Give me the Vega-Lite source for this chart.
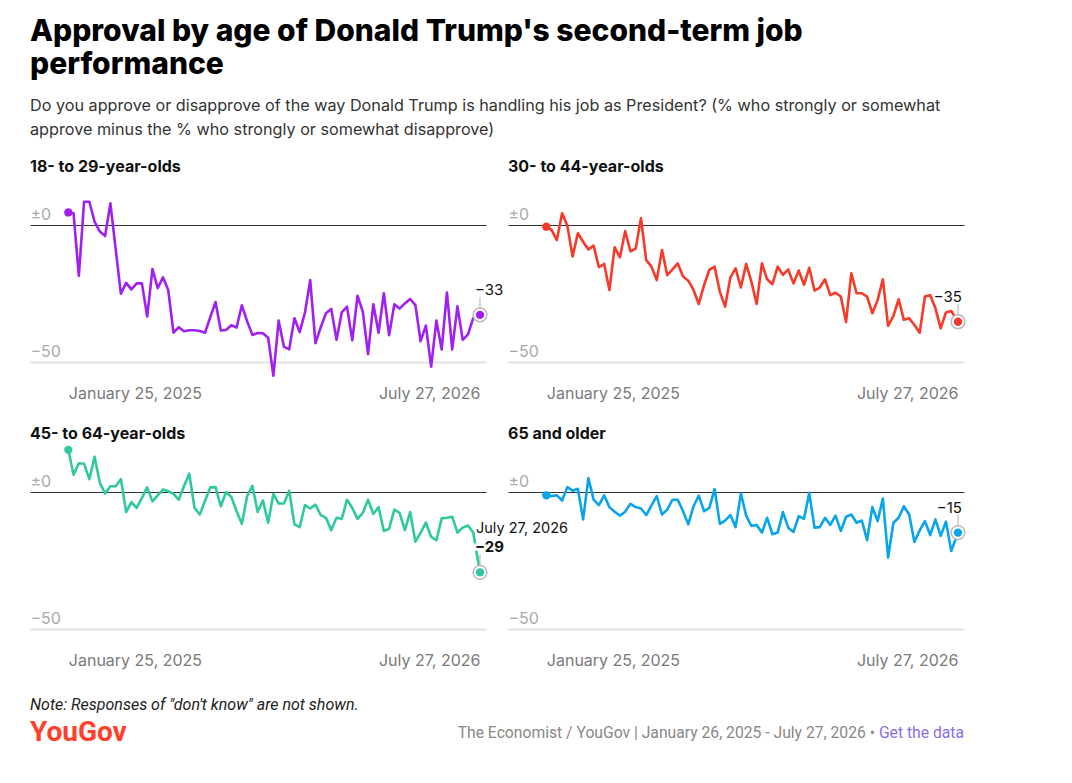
{
  "$schema": "https://vega.github.io/schema/vega-lite/v6.json",
  "background": "white",
  "padding": {"left": 30, "top": 16, "right": 10, "bottom": 10},
  "config": {
    "view": {"stroke": null},
    "font": "Inter",
    "text": {"font": "Inter"}
  },
  "title": {
    "text": ["Approval by age of Donald Trump's second-term job", "performance"],
    "subtitle": ["Do you approve or disapprove of the way Donald Trump is handling his job as President? (% who strongly or somewhat", "approve minus the % who strongly or somewhat disapprove)"],
    "anchor": "start",
    "font": "Inter",
    "fontSize": 30,
    "fontWeight": 800,
    "color": "#000000",
    "lineHeight": 33,
    "subtitleFont": "Inter",
    "subtitleFontSize": 16.2,
    "subtitleColor": "#333333",
    "subtitleLineHeight": 24,
    "subtitlePadding": 18,
    "offset": 21
  },
  "spacing": 29,
  "vconcat": [
    {
      "data": {
        "format": {"parse": {"d": "utc:'%Y-%m-%d'"}},
        "values": [
          {"d": "2025-01-25", "18- to 29-year-olds": 4.7, "30- to 44-year-olds": -0.5, "45- to 64-year-olds": 15.5, "65 and older": -1.1},
          {"d": "2025-02-01", "18- to 29-year-olds": 4.4, "30- to 44-year-olds": -1.7, "45- to 64-year-olds": 6.4, "65 and older": -1.4},
          {"d": "2025-02-08", "18- to 29-year-olds": -18.5, "30- to 44-year-olds": -5.4, "45- to 64-year-olds": 10.6, "65 and older": -1.1},
          {"d": "2025-02-15", "18- to 29-year-olds": 8.6, "30- to 44-year-olds": 4.4, "45- to 64-year-olds": 10.4, "65 and older": -3},
          {"d": "2025-02-22", "18- to 29-year-olds": 8.6, "30- to 44-year-olds": -0.2, "45- to 64-year-olds": 4.8, "65 and older": 1.9},
          {"d": "2025-03-01", "18- to 29-year-olds": 1.3, "30- to 44-year-olds": -11.4, "45- to 64-year-olds": 13, "65 and older": 0.6},
          {"d": "2025-03-08", "18- to 29-year-olds": -2.3, "30- to 44-year-olds": -2.9, "45- to 64-year-olds": 3.4, "65 and older": 1.3},
          {"d": "2025-03-15", "18- to 29-year-olds": -3.9, "30- to 44-year-olds": -6, "45- to 64-year-olds": -0.4, "65 and older": -9.9},
          {"d": "2025-03-22", "18- to 29-year-olds": 8, "30- to 44-year-olds": -8.8, "45- to 64-year-olds": 2.2, "65 and older": 5.2},
          {"d": "2025-03-29", "18- to 29-year-olds": -8.5, "30- to 44-year-olds": -7.4, "45- to 64-year-olds": 2.2, "65 and older": -2.7},
          {"d": "2025-04-05", "18- to 29-year-olds": -25, "30- to 44-year-olds": -15.3, "45- to 64-year-olds": 4.8, "65 and older": -4.7},
          {"d": "2025-04-12", "18- to 29-year-olds": -21, "30- to 44-year-olds": -14.1, "45- to 64-year-olds": -7.2, "65 and older": -1.1},
          {"d": "2025-04-19", "18- to 29-year-olds": -23.4, "30- to 44-year-olds": -23.6, "45- to 64-year-olds": -3.6, "65 and older": -5.4},
          {"d": "2025-04-26", "18- to 29-year-olds": -21.2, "30- to 44-year-olds": -8, "45- to 64-year-olds": -5.7, "65 and older": -7.1},
          {"d": "2025-05-03", "18- to 29-year-olds": -21.2, "30- to 44-year-olds": -11.7, "45- to 64-year-olds": -2, "65 and older": -8.5},
          {"d": "2025-05-10", "18- to 29-year-olds": -33.3, "30- to 44-year-olds": -2.1, "45- to 64-year-olds": 1.8, "65 and older": -7.1},
          {"d": "2025-05-17", "18- to 29-year-olds": -16, "30- to 44-year-olds": -9.5, "45- to 64-year-olds": -3.3, "65 and older": -4.2},
          {"d": "2025-05-24", "18- to 29-year-olds": -22.9, "30- to 44-year-olds": -8.5, "45- to 64-year-olds": -1.1, "65 and older": -5.4},
          {"d": "2025-05-31", "18- to 29-year-olds": -19, "30- to 44-year-olds": 2.6, "45- to 64-year-olds": 1, "65 and older": -5.9},
          {"d": "2025-06-07", "18- to 29-year-olds": -23.6, "30- to 44-year-olds": -12.7, "45- to 64-year-olds": 0.4, "65 and older": -8.3},
          {"d": "2025-06-14", "18- to 29-year-olds": -39.2, "30- to 44-year-olds": -15.1, "45- to 64-year-olds": -0.6, "65 and older": -4.8},
          {"d": "2025-06-21", "18- to 29-year-olds": -37.2, "30- to 44-year-olds": -20, "45- to 64-year-olds": -2.7, "65 and older": -1.4},
          {"d": "2025-06-28", "18- to 29-year-olds": -38.7, "30- to 44-year-olds": -9, "45- to 64-year-olds": 2.3, "65 and older": -8.1},
          {"d": "2025-07-05", "18- to 29-year-olds": -38.3, "30- to 44-year-olds": -18.2, "45- to 64-year-olds": 6.8, "65 and older": -6.3},
          {"d": "2025-07-12", "18- to 29-year-olds": -38.3, "30- to 44-year-olds": -16.1, "45- to 64-year-olds": -5.7, "65 and older": -2.7},
          {"d": "2025-07-19", "18- to 29-year-olds": -38.6, "30- to 44-year-olds": -13.9, "45- to 64-year-olds": -8.1, "65 and older": -2.7},
          {"d": "2025-07-26", "18- to 29-year-olds": -39.2, "30- to 44-year-olds": -18.7, "45- to 64-year-olds": -3.1, "65 and older": -6.9},
          {"d": "2025-08-02", "18- to 29-year-olds": -33.5, "30- to 44-year-olds": -20.2, "45- to 64-year-olds": 1.8, "65 and older": -11.7},
          {"d": "2025-08-09", "18- to 29-year-olds": -28, "30- to 44-year-olds": -23.6, "45- to 64-year-olds": 1.9, "65 and older": -5.1},
          {"d": "2025-08-16", "18- to 29-year-olds": -38.4, "30- to 44-year-olds": -28.7, "45- to 64-year-olds": -5.1, "65 and older": -1.2},
          {"d": "2025-08-23", "18- to 29-year-olds": -38.2, "30- to 44-year-olds": -21.8, "45- to 64-year-olds": 0.1, "65 and older": -6.9},
          {"d": "2025-08-30", "18- to 29-year-olds": -36.5, "30- to 44-year-olds": -16.3, "45- to 64-year-olds": -1.7, "65 and older": -5.7},
          {"d": "2025-09-06", "18- to 29-year-olds": -37.3, "30- to 44-year-olds": -15.1, "45- to 64-year-olds": -6.9, "65 and older": 1.2},
          {"d": "2025-09-13", "18- to 29-year-olds": -29.2, "30- to 44-year-olds": -24.2, "45- to 64-year-olds": -11.5, "65 and older": -11.5},
          {"d": "2025-09-20", "18- to 29-year-olds": -35, "30- to 44-year-olds": -29.7, "45- to 64-year-olds": -1.4, "65 and older": -10.3},
          {"d": "2025-09-27", "18- to 29-year-olds": -40, "30- to 44-year-olds": -19, "45- to 64-year-olds": 2.4, "65 and older": -8.3},
          {"d": "2025-10-04", "18- to 29-year-olds": -39.3, "30- to 44-year-olds": -15.7, "45- to 64-year-olds": -7.2, "65 and older": -12.7},
          {"d": "2025-10-11", "18- to 29-year-olds": -39.4, "30- to 44-year-olds": -22.7, "45- to 64-year-olds": -3, "65 and older": -0.4},
          {"d": "2025-10-18", "18- to 29-year-olds": -41, "30- to 44-year-olds": -14.1, "45- to 64-year-olds": -11.1, "65 and older": -8.5},
          {"d": "2025-10-25", "18- to 29-year-olds": -54.9, "30- to 44-year-olds": -20.6, "45- to 64-year-olds": -0.6, "65 and older": -12.3},
          {"d": "2025-11-01", "18- to 29-year-olds": -34.8, "30- to 44-year-olds": -28.7, "45- to 64-year-olds": -4.1, "65 and older": -11.9},
          {"d": "2025-11-08", "18- to 29-year-olds": -44.3, "30- to 44-year-olds": -13.9, "45- to 64-year-olds": -4.1, "65 and older": -14.7},
          {"d": "2025-11-15", "18- to 29-year-olds": -45.3, "30- to 44-year-olds": -19.7, "45- to 64-year-olds": 0.6, "65 and older": -9.3},
          {"d": "2025-11-22", "18- to 29-year-olds": -33.9, "30- to 44-year-olds": -21.5, "45- to 64-year-olds": -11.7, "65 and older": -15.3},
          {"d": "2025-11-29", "18- to 29-year-olds": -39, "30- to 44-year-olds": -15.1, "45- to 64-year-olds": -12.7, "65 and older": -14.7},
          {"d": "2025-12-06", "18- to 29-year-olds": -31.9, "30- to 44-year-olds": -18.1, "45- to 64-year-olds": -4.7, "65 and older": -7.2},
          {"d": "2025-12-13", "18- to 29-year-olds": -20, "30- to 44-year-olds": -16.1, "45- to 64-year-olds": -5.9, "65 and older": -12.9},
          {"d": "2025-12-20", "18- to 29-year-olds": -43, "30- to 44-year-olds": -21.2, "45- to 64-year-olds": -4.5, "65 and older": -14.5},
          {"d": "2025-12-27", "18- to 29-year-olds": -37.2, "30- to 44-year-olds": -16.5, "45- to 64-year-olds": -8.3, "65 and older": -8.7},
          {"d": "2026-01-03", "18- to 29-year-olds": -32.1, "30- to 44-year-olds": -21.7, "45- to 64-year-olds": -9.3, "65 and older": -9.7},
          {"d": "2026-01-10", "18- to 29-year-olds": -30.5, "30- to 44-year-olds": -15.5, "45- to 64-year-olds": -13.8, "65 and older": -0.2},
          {"d": "2026-01-17", "18- to 29-year-olds": -41.8, "30- to 44-year-olds": -23.8, "45- to 64-year-olds": -9.3, "65 and older": -12.9},
          {"d": "2026-01-24", "18- to 29-year-olds": -31.8, "30- to 44-year-olds": -22.7, "45- to 64-year-olds": -9.7, "65 and older": -12.7},
          {"d": "2026-01-31", "18- to 29-year-olds": -29.7, "30- to 44-year-olds": -19.7, "45- to 64-year-olds": -2.7, "65 and older": -9.3},
          {"d": "2026-02-07", "18- to 29-year-olds": -42, "30- to 44-year-olds": -25.5, "45- to 64-year-olds": -5.7, "65 and older": -11.9},
          {"d": "2026-02-14", "18- to 29-year-olds": -25.7, "30- to 44-year-olds": -24.6, "45- to 64-year-olds": -9.7, "65 and older": -8.5},
          {"d": "2026-02-21", "18- to 29-year-olds": -31.5, "30- to 44-year-olds": -26, "45- to 64-year-olds": -7.5, "65 and older": -14.1},
          {"d": "2026-02-28", "18- to 29-year-olds": -47, "30- to 44-year-olds": -35.3, "45- to 64-year-olds": -2.7, "65 and older": -8.9},
          {"d": "2026-03-07", "18- to 29-year-olds": -28.8, "30- to 44-year-olds": -17.5, "45- to 64-year-olds": -7.9, "65 and older": -8.1},
          {"d": "2026-03-14", "18- to 29-year-olds": -39.2, "30- to 44-year-olds": -24.8, "45- to 64-year-olds": -5.4, "65 and older": -11.1},
          {"d": "2026-03-21", "18- to 29-year-olds": -24.8, "30- to 44-year-olds": -24.8, "45- to 64-year-olds": -14.1, "65 and older": -10.3},
          {"d": "2026-03-28", "18- to 29-year-olds": -40.1, "30- to 44-year-olds": -26, "45- to 64-year-olds": -13.3, "65 and older": -17.5},
          {"d": "2026-04-04", "18- to 29-year-olds": -28.8, "30- to 44-year-olds": -32.1, "45- to 64-year-olds": -6.3, "65 and older": -5.4},
          {"d": "2026-04-11", "18- to 29-year-olds": -30.4, "30- to 44-year-olds": -27.3, "45- to 64-year-olds": -7.5, "65 and older": -10.5},
          {"d": "2026-04-18", "18- to 29-year-olds": -28.5, "30- to 44-year-olds": -19.7, "45- to 64-year-olds": -13.8, "65 and older": -2.3},
          {"d": "2026-04-25", "18- to 29-year-olds": -26.9, "30- to 44-year-olds": -36.7, "45- to 64-year-olds": -7.2, "65 and older": -23.8},
          {"d": "2026-05-02", "18- to 29-year-olds": -29.1, "30- to 44-year-olds": -33.1, "45- to 64-year-olds": -18, "65 and older": -11.1},
          {"d": "2026-05-09", "18- to 29-year-olds": -42.3, "30- to 44-year-olds": -27, "45- to 64-year-olds": -14.7, "65 and older": -9.3},
          {"d": "2026-05-16", "18- to 29-year-olds": -36.6, "30- to 44-year-olds": -34.5, "45- to 64-year-olds": -11.1, "65 and older": -5.1},
          {"d": "2026-05-23", "18- to 29-year-olds": -51.6, "30- to 44-year-olds": -33.9, "45- to 64-year-olds": -16.3, "65 and older": -8.1},
          {"d": "2026-05-30", "18- to 29-year-olds": -34.8, "30- to 44-year-olds": -36.4, "45- to 64-year-olds": -17.5, "65 and older": -18.1},
          {"d": "2026-06-06", "18- to 29-year-olds": -45.3, "30- to 44-year-olds": -39.2, "45- to 64-year-olds": -9.5, "65 and older": -13.9},
          {"d": "2026-06-13", "18- to 29-year-olds": -24.5, "30- to 44-year-olds": -26, "45- to 64-year-olds": -9.3, "65 and older": -10.5},
          {"d": "2026-06-20", "18- to 29-year-olds": -45.3, "30- to 44-year-olds": -25.5, "45- to 64-year-olds": -8.9, "65 and older": -15.6},
          {"d": "2026-06-27", "18- to 29-year-olds": -29.6, "30- to 44-year-olds": -30.3, "45- to 64-year-olds": -14.7, "65 and older": -9.9},
          {"d": "2026-07-04", "18- to 29-year-olds": -41.8, "30- to 44-year-olds": -37.6, "45- to 64-year-olds": -12.9, "65 and older": -15.9},
          {"d": "2026-07-11", "18- to 29-year-olds": -39.8, "30- to 44-year-olds": -31.8, "45- to 64-year-olds": -12.1, "65 and older": -10.7},
          {"d": "2026-07-18", "18- to 29-year-olds": -33.9, "30- to 44-year-olds": -31.3, "45- to 64-year-olds": -14.7, "65 and older": -21.4},
          {"d": "2026-07-27", "18- to 29-year-olds": -32.7, "30- to 44-year-olds": -35.2, "45- to 64-year-olds": -29.2, "65 and older": -14.7}
        ]
      },
      "transform": [
        {"fold": ["18- to 29-year-olds", "30- to 44-year-olds", "45- to 64-year-olds", "65 and older"], "as": ["group", "value"]},
        {"joinaggregate": [{"op": "min", "field": "d", "as": "dmin"}, {"op": "max", "field": "d", "as": "dmax"}], "groupby": ["group"]}
      ],
      "columns": 2,
      "bounds": "flush",
      "spacing": {"row": 67, "column": 22},
      "facet": {
        "field": "group",
        "type": "nominal",
        "sort": ["18- to 29-year-olds", "30- to 44-year-olds", "45- to 64-year-olds", "65 and older"],
        "header": {
          "title": null,
          "labelAnchor": "start",
          "labelFont": "Inter",
          "labelFontWeight": "bold",
          "labelFontSize": 16,
          "labelColor": "#111111",
          "labelPadding": 1
        }
      },
      "resolve": {"axis": {"x": "independent", "y": "independent"}},
      "spec": {
        "width": 456,
        "height": 200,
        "encoding": {
          "x": {
            "field": "d",
            "type": "temporal",
            "scale": {"type": "utc", "domain": [{"year": 2024, "month": 12, "date": 5, "utc": true}, {"year": 2026, "month": 8, "date": 4, "utc": true}]},
            "axis": {
              "title": null,
              "values": [{"year": 2025, "month": 1, "date": 25, "utc": true}, {"year": 2026, "month": 7, "date": 27, "utc": true}],
              "format": "%B %-d, %Y",
              "labelFlush": 50,
              "domain": false,
              "ticks": false,
              "grid": false,
              "labelPadding": 9,
              "labelFont": "Inter",
              "labelFontSize": 16,
              "labelColor": "#7a7a7a"
            }
          },
          "y": {
            "field": "value",
            "type": "quantitative",
            "scale": {"domain": [-55, 18], "nice": false, "zero": false},
            "axis": {
              "title": null,
              "values": [-50, 0],
              "domain": false,
              "ticks": false,
              "tickSize": 0,
              "labelAlign": "left",
              "labelBaseline": "bottom",
              "labelPadding": 0,
              "labelOffset": -3,
              "labelFont": "Inter",
              "labelFontSize": 16,
              "labelColor": "#aaaaaa",
              "labelExpr": "datum.value == 0 ? '±0' : '−50'",
              "grid": true,
              "gridColor": {"condition": {"test": "datum.value == 0", "value": "#333333"}, "value": "#e2e2e2"},
              "gridWidth": {"condition": {"test": "datum.value == 0", "value": 1}, "value": 2}
            }
          }
        },
        "layer": [
          {
            "mark": {"type": "line", "strokeWidth": 2.6, "strokeJoin": "round"},
            "encoding": {
              "color": {"field": "group", "type": "nominal", "legend": null,
                "scale": {"domain": ["18- to 29-year-olds", "30- to 44-year-olds", "45- to 64-year-olds", "65 and older"], "range": ["#a020f0", "#f53a2a", "#2fc8a0", "#0aa4ea"]}}
            }
          },
          {
            "transform": [{"filter": "+datum.d == +datum.dmin"}],
            "mark": {"type": "circle", "size": 70, "opacity": 1},
            "encoding": {
              "color": {"field": "group", "type": "nominal", "legend": null}
            }
          },
          {
            "transform": [{"filter": "+datum.d == +datum.dmax"}],
            "mark": {"type": "rule", "color": "#bbbbbb", "strokeWidth": 1.2, "yOffset": -7, "y2Offset": -18},
            "encoding": {"y2": {"field": "value"}}
          },
          {
            "transform": [{"filter": "+datum.d == +datum.dmax"}],
            "mark": {"type": "circle", "size": 190, "fill": "white", "stroke": "#bbbbbb", "strokeWidth": 1.5, "opacity": 1},
            "encoding": {}
          },
          {
            "transform": [{"filter": "+datum.d == +datum.dmax"}],
            "mark": {"type": "circle", "size": 70, "opacity": 1},
            "encoding": {
              "color": {"field": "group", "type": "nominal", "legend": null}
            }
          },
          {
            "transform": [{"filter": "+datum.d == +datum.dmax && datum.group == '18- to 29-year-olds'"}],
            "mark": {"type": "text", "align": "left", "baseline": "middle", "dx": -5, "dy": -25, "fontSize": 15, "color": "#111111"},
            "encoding": {"text": {"field": "value", "type": "quantitative", "format": "d"}}
          },
          {
            "transform": [{"filter": "+datum.d == +datum.dmax && (datum.group == '30- to 44-year-olds' || datum.group == '65 and older')"}],
            "mark": {"type": "text", "align": "right", "baseline": "middle", "dx": 4, "dy": -25, "fontSize": 15, "color": "#111111"},
            "encoding": {"text": {"field": "value", "type": "quantitative", "format": "d"}}
          },
          {
            "transform": [{"filter": "+datum.d == +datum.dmax && datum.group == '45- to 64-year-olds'"}],
            "mark": {"type": "text", "align": "left", "baseline": "middle", "dx": -5, "dy": -25, "fontSize": 15, "fontWeight": "bold", "color": "white", "stroke": "white", "strokeWidth": 5},
            "encoding": {"text": {"field": "value", "type": "quantitative", "format": "d"}}
          },
          {
            "transform": [{"filter": "+datum.d == +datum.dmax && datum.group == '45- to 64-year-olds'"}],
            "mark": {"type": "text", "align": "left", "baseline": "middle", "dx": -5, "dy": -25, "fontSize": 15, "fontWeight": "bold", "color": "#111111"},
            "encoding": {"text": {"field": "value", "type": "quantitative", "format": "d"}}
          },
          {
            "transform": [{"filter": "+datum.d == +datum.dmax && datum.group == '45- to 64-year-olds'"}],
            "mark": {"type": "text", "align": "left", "baseline": "middle", "dx": -4, "dy": -43, "fontSize": 14.5, "color": "#111111"},
            "encoding": {"text": {"field": "d", "type": "temporal", "timeUnit": "utcyearmonthdate", "format": "%B %-d, %Y"}}
          }
        ]
      }
    },
    {
      "width": 934,
      "height": 28,
      "data": {"values": [{}]},
      "encoding": {
        "x": {"datum": 0, "type": "quantitative", "scale": {"domain": [0, 1]}, "axis": null},
        "y": {"datum": 1, "type": "quantitative", "scale": {"domain": [0, 1]}, "axis": null}
      },
      "layer": [
        {
          "mark": {"type": "text", "text": "Note: Responses of \"don't know\" are not shown.", "align": "left", "baseline": "middle", "font": "Roboto", "fontStyle": "italic", "fontSize": 16, "color": "#222222"}
        },
        {
          "mark": {"type": "text", "text": "YouGov", "align": "left", "baseline": "middle", "font": "Roboto", "fontWeight": "bold", "fontSize": 28, "letterSpacing": -0.8, "color": "#ff412c"},
          "encoding": {"y": {"datum": 0, "type": "quantitative"}}
        },
        {
          "mark": {"type": "text", "text": "The Economist / YouGov | January 26, 2025 - July 27, 2026 • ", "align": "right", "baseline": "middle", "font": "Roboto", "fontSize": 15.7, "color": "#888888", "dx": -89},
          "encoding": {"x": {"datum": 1, "type": "quantitative"}, "y": {"datum": 0, "type": "quantitative"}}
        },
        {
          "mark": {"type": "text", "text": "Get the data", "align": "right", "baseline": "middle", "font": "Roboto", "fontSize": 15.7, "color": "#8b6fe3"},
          "encoding": {"x": {"datum": 1, "type": "quantitative"}, "y": {"datum": 0, "type": "quantitative"}}
        }
      ]
    }
  ]
}
